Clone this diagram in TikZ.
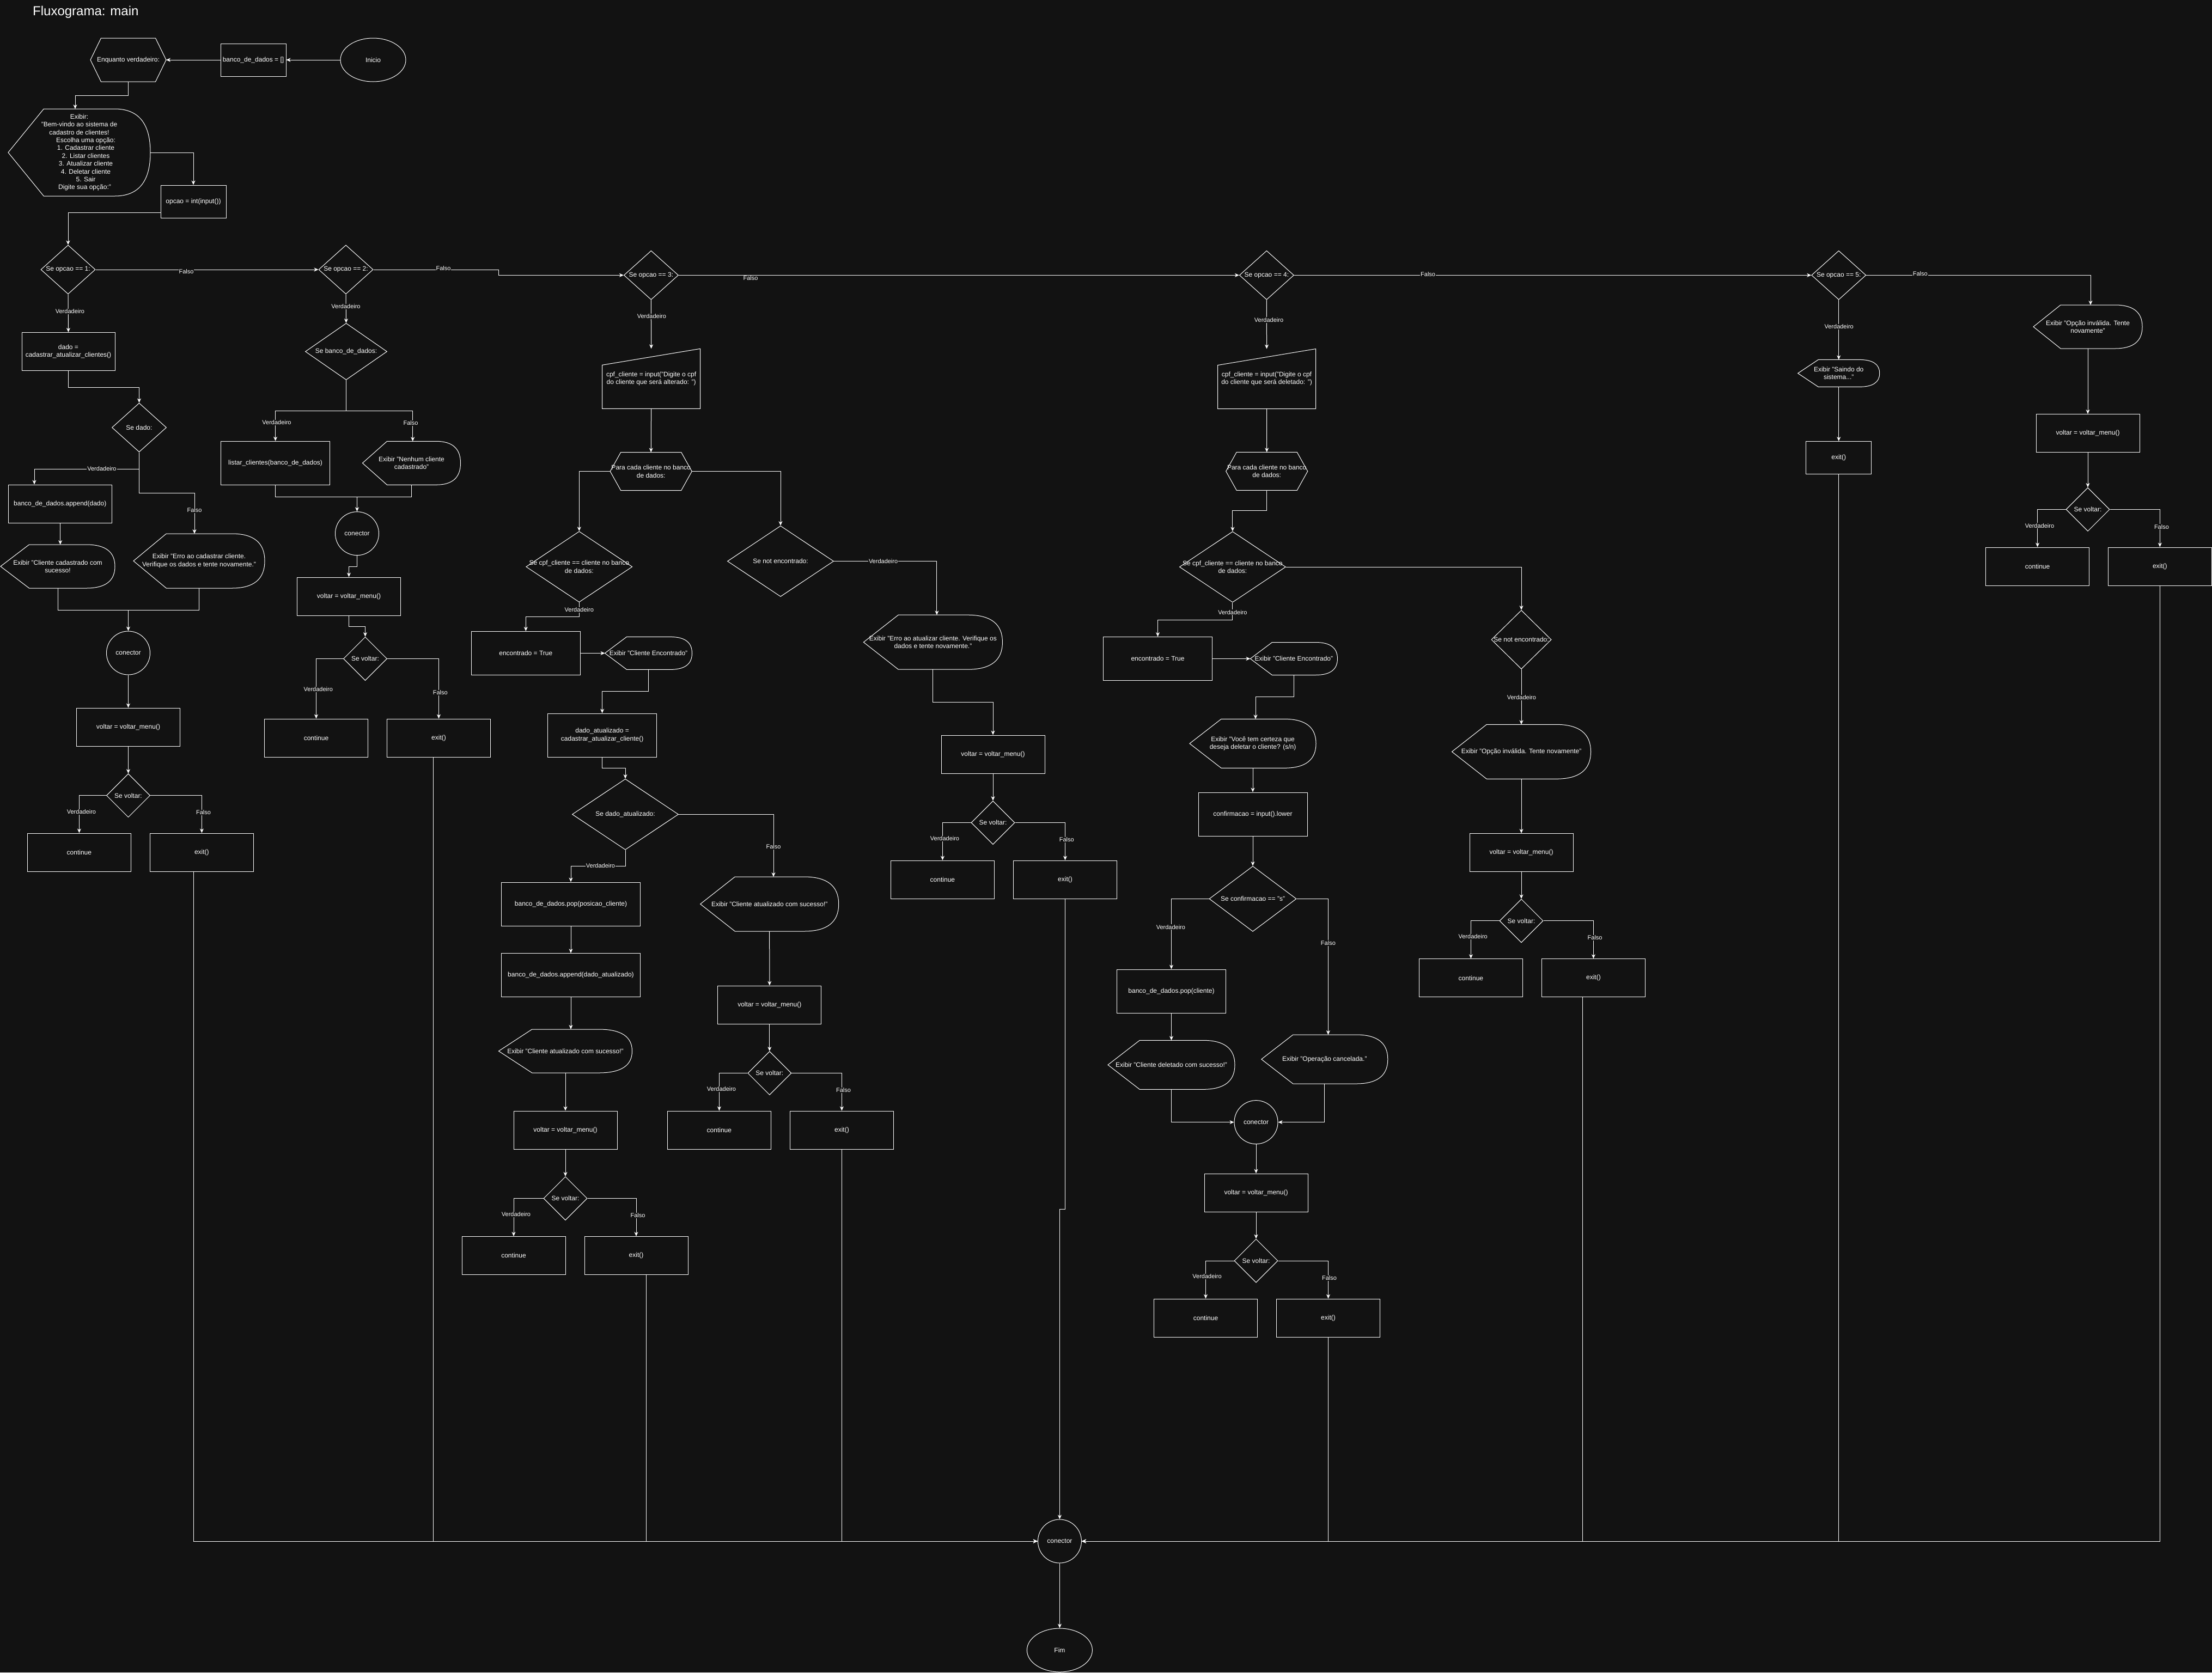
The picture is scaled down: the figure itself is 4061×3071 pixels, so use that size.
\documentclass[tikz,border=0pt]{standalone}
\usepackage{fontspec}
\setmainfont{Liberation Sans}
\usetikzlibrary{shapes.geometric,calc,arrows.meta}
\definecolor{bg}{RGB}{18,18,18}
\newcommand\fsn{\fontsize{12}{14.4}\selectfont}
\newcommand\fsl{\fontsize{11}{13}\selectfont}
\tikzset{
  shp/.style={draw=white, line width=1pt},
  box/.style={rectangle, draw=white, line width=1pt, text=white, font=\fsn, align=center, inner sep=2pt},
  ell/.style={ellipse, draw=white, line width=1pt, text=white, font=\fsn, inner sep=0pt},
  dia/.style={diamond, draw=white, line width=1pt, inner sep=0pt},
  txt/.style={text=white, font=\fsn, align=center, inner sep=0pt},
  anchorbox/.style={rectangle, draw=none, inner sep=0pt, outer sep=0pt},
  lbl/.style={text=white, fill=bg, font=\fsl, inner sep=1pt},
  arr/.style={draw=white, line width=1pt, -{Stealth[length=8pt,width=7pt,inset=2.5pt]}},
  con/.style={draw=white, line width=1pt}
}
\newcommand{\boxnode}[5]{\node[box, minimum width=#3pt, minimum height=#4pt] (#1) at (#2) {#5};}
\newcommand{\ellnode}[5]{\node[ell, minimum width=#3pt, minimum height=#4pt] (#1) at (#2) {#5};}
\newcommand{\dianode}[5]{%
  \node[dia, minimum width=#3pt, minimum height=#4pt] (#1) at (#2) {};
  \node[txt] (#1-t) at (#1.center) {#5};}
\newcommand{\hexnode}[5]{%
  \node[anchorbox, minimum width=#3pt, minimum height=#4pt] (#1) at (#2) {};
  \draw[shp] (#1.west) -- ([xshift=19.5pt]#1.north west) -- ([xshift=-19.5pt]#1.north east) -- (#1.east)
     -- ([xshift=-19.5pt]#1.south east) -- ([xshift=19.5pt]#1.south west) -- cycle;
  \node[txt] (#1-t) at (#1.center) {#5};}
\newcommand{\manualnode}[5]{%
  \node[anchorbox, minimum width=#3pt, minimum height=#4pt] (#1) at (#2) {};
  \draw[shp] ([yshift=-30pt]#1.north west) -- (#1.north east) -- (#1.south east) -- (#1.south west) -- cycle;
  \node[txt] (#1-t) at (#1.center) {#5};}
\newcommand{\dispnode}[5]{%
  \node[anchorbox, minimum width=#3pt, minimum height=#4pt] (#1) at (#2) {};
  \coordinate (#1-tl) at ($(#1.north west)!0.25!(#1.north east)$);
  \coordinate (#1-tr) at ($(#1.north west)!0.75!(#1.north east)$);
  \coordinate (#1-bl) at ($(#1.south west)!0.25!(#1.south east)$);
  \coordinate (#1-br) at ($(#1.south west)!0.75!(#1.south east)$);
  \draw[shp] (#1.west) -- (#1-tl) -- (#1-tr)
     .. controls ($(#1-tr)!0.6667!(#1.north east)$) and ($(#1.east)!0.6667!(#1.north east)$) .. (#1.east)
     .. controls ($(#1.east)!0.6667!(#1.south east)$) and ($(#1-br)!0.6667!(#1.south east)$) .. (#1-br)
     -- (#1-bl) -- cycle;
  \node[txt] (#1-t) at (#1.center) {#5};}
\newcommand{\lab}[3]{\node[lbl] (#1) at (#2) {#3};}

\begin{document}
\begin{tikzpicture}[x=1pt,y=-1pt]
\fill[bg] (0,0) rectangle (4061,3071);
\useasboundingbox (0,0) rectangle (4061,3071);

\node[anchor=base west, text=white, font=\fontsize{24}{28}\selectfont, inner sep=0pt] (title) at (60,28) {Fluxograma: main};

% ---------- header ----------
\ellnode{inicio}{685,110}{120}{80}{Inicio}
\boxnode{bdd}{465,110}{120}{60}{banco\_de\_dados = []}
\hexnode{enq}{235.5,110}{139}{80}{Enquanto verdadeiro:}
\dispnode{menu}{145.5,280}{261}{160}{Exibir:\\"Bem-vindo ao sistema de\\cadastro de clientes!\\\hspace*{24pt}Escolha uma opção:\\\hspace*{24pt}1. Cadastrar cliente\\\hspace*{24pt}2. Listar clientes\\\hspace*{24pt}3. Atualizar cliente\\\hspace*{24pt}4. Deletar cliente\\\hspace*{24pt}5. Sair\\\hspace*{20pt}Digite sua opção:"}
\boxnode{opcao}{355,370}{120}{60}{opcao = int(input())}

% ---------- column 1 ----------
\dianode{op1}{125,495}{100}{90}{Se opcao == 1:}
\boxnode{dado}{125.5,645.5}{171}{70}{dado =\\cadastrar\_atualizar\_clientes()}
\dianode{sedado}{255.5,785}{100}{90}{Se dado:}
\boxnode{app1}{110.3,925}{190}{70}{banco\_de\_dados.append(dado)}
\dispnode{cad}{106,1040}{210}{80}{Exibir "Cliente cadastrado com\\sucesso!}
\dispnode{err1}{365.5,1030}{241}{100}{Exibir "Erro ao cadastrar cliente.\\Verifique os dados e tente novamente."}
\ellnode{con1}{235.5,1199}{80}{80}{conector}
\boxnode{v1}{235.5,1335}{190}{70}{voltar = voltar\_menu()}
\dianode{sv1}{235.5,1460.7}{80}{80}{Se voltar:}
\boxnode{c1}{145.4,1565}{190}{70}{continue}
\boxnode{e1}{370.4,1565}{190}{70}{exit()}

% ---------- column 2 ----------
\dianode{op2}{635,495}{100}{90}{Se opcao == 2:}
\dianode{sbd}{635.5,645.5}{150}{104}{Se banco\_de\_dados:}
\boxnode{listar}{505.6,850.3}{200}{80}{listar\_clientes(banco\_de\_dados)}
\dispnode{nenhum}{755.5,850.3}{180}{80}{Exibir "Nenhum cliente\\cadastrado"}
\ellnode{con2}{655.5,979.7}{80}{80}{conector}
\boxnode{v2}{640.5,1095}{190}{70}{voltar = voltar\_menu()}
\dianode{sv2}{670.5,1209.5}{80}{80}{Se voltar:}
\boxnode{c2}{580.5,1355}{190}{70}{continue}
\boxnode{e2}{805.5,1355}{190}{70}{exit()}

% ---------- column 3 ----------
\dianode{op3}{1195.4,505.3}{100}{90}{Se opcao == 3:}
\manualnode{cpf3}{1195.6,695.3}{180}{110}{cpf\_cliente = input("Digite o cpf\\do cliente que será alterado: ")}
\hexnode{para3}{1195.2,865.5}{150}{70}{Para cada cliente no banco\\de dados:}
\dianode{scpf3}{1063.3,1040.7}{195}{130}{Se cpf\_cliente == cliente no banco\\de dados:}
\dianode{snf3}{1433,1030.5}{195}{130}{Se not encontrado:}
\boxnode{enc3}{965.3,1199.4}{200}{80}{encontrado = True}
\dispnode{ce3}{1190.5,1199.4}{160}{60}{Exibir "Cliente Encontrado"}
\boxnode{da3}{1105.6,1350}{200}{80}{dado\_atualizado =\\cadastrar\_atualizar\_cliente()}
\dianode{sda3}{1148,1495.3}{195}{130}{Se dado\_atualizado:}
\boxnode{pop3}{1048,1660}{255}{80}{banco\_de\_dados.pop(posicao\_cliente)}
\boxnode{app3}{1048,1790.6}{255}{80}{banco\_de\_dados.append(dado\_atualizado)}
\dispnode{ok3a}{1038,1930}{245}{80}{Exibir "Cliente atualizado com sucesso!"}
\boxnode{v3a}{1038,2075}{190}{70}{voltar = voltar\_menu()}
\dianode{sv3a}{1038,2200.5}{80}{80}{Se voltar:}
\boxnode{c3a}{943,2305.5}{190}{70}{continue}
\boxnode{e3a}{1168,2305.5}{190}{70}{exit()}
\dispnode{ok3b}{1412.7,1660}{254}{100}{Exibir "Cliente atualizado com sucesso!"}
\boxnode{v3b}{1412.8,1845}{190}{70}{voltar = voltar\_menu()}
\dianode{sv3b}{1412.8,1970.5}{80}{80}{Se voltar:}
\boxnode{c3b}{1320.4,2075}{190}{70}{continue}
\boxnode{e3b}{1545.4,2075}{190}{70}{exit()}
\dispnode{err3}{1712.9,1179.2}{255}{100}{Exibir "Erro ao atualizar cliente. Verifique os\\dados e tente novamente."}
\boxnode{v3c}{1823,1385}{190}{70}{voltar = voltar\_menu()}
\dianode{sv3c}{1823,1510.6}{80}{80}{Se voltar:}
\boxnode{c3c}{1730.4,1615}{190}{70}{continue}
\boxnode{e3c}{1955.5,1615}{190}{70}{exit()}

% ---------- column 4 ----------
\dianode{op4}{2325.4,505.3}{100}{90}{Se opcao == 4:}
\manualnode{cpf4}{2325.5,695.6}{180}{110}{cpf\_cliente = input("Digite o cpf\\do cliente que será deletado: ")}
\hexnode{para4}{2325.7,865.3}{150}{70}{Para cada cliente no banco\\de dados:}
\dianode{scpf4}{2262.9,1041}{195}{130}{Se cpf\_cliente == cliente no banco\\de dados:}
\boxnode{enc4}{2125.5,1209.5}{200}{80}{encontrado = True}
\dispnode{ce4}{2375.4,1209.5}{160}{60}{Exibir "Cliente Encontrado"}
\dispnode{voce}{2300,1365.3}{232}{90}{Exibir "Você tem certeza que\\deseja deletar o cliente? (s/n)}
\boxnode{conf}{2300,1495}{200}{80}{confirmacao = input().lower}
\dianode{sconf}{2300,1650.4}{160}{120}{Se confirmacao == "s"}
\boxnode{pop4}{2150.5,1820}{200}{80}{banco\_de\_dados.pop(cliente)}
\dispnode{del4}{2150.5,1955.3}{233}{90}{Exibir "Cliente deletado com sucesso!"}
\dispnode{canc}{2431.8,1945}{232}{90}{Exibir "Operação cancelada."}
\ellnode{con4}{2306,2060.6}{80}{80}{conector}
\boxnode{v4}{2306,2190}{190}{70}{voltar = voltar\_menu()}
\dianode{sv4}{2306,2315}{80}{80}{Se voltar:}
\boxnode{c4}{2213.5,2420}{190}{70}{continue}
\boxnode{e4}{2438.5,2420}{190}{70}{exit()}
\dianode{snf4}{2793,1174.5}{110}{108}{Se not encontrado:}
\dispnode{inv4}{2793,1380.3}{255}{100}{Exibir "Opção inválida. Tente novamente"}
\boxnode{v4b}{2793,1565.5}{190}{70}{voltar = voltar\_menu()}
\dianode{sv4b}{2793,1690.8}{80}{80}{Se voltar:}
\boxnode{c4b}{2700.4,1795.7}{190}{70}{continue}
\boxnode{e4b}{2925.4,1795.7}{190}{70}{exit()}

% ---------- column 5 ----------
\dianode{op5}{3375.7,505.3}{100}{90}{Se opcao == 5:}
\dispnode{sai}{3375.7,685.4}{150}{50}{Exibir "Saindo do\\sistema..."}
\boxnode{e5}{3375.7,840.5}{120}{60}{exit()}
\dispnode{inv5}{3833,600}{200}{80}{Exibir "Opção inválida. Tente\\novamente"}
\boxnode{v5}{3833,795.5}{190}{70}{voltar = voltar\_menu()}
\dianode{sv5}{3833,935.4}{80}{80}{Se voltar:}
\boxnode{c5}{3740.6,1040}{190}{70}{continue}
\boxnode{e5b}{3965.3,1040}{190}{70}{exit()}

% ---------- end ----------
\ellnode{cend}{1945.4,2830}{80}{80}{conector}
\ellnode{fim}{1945.4,3030}{120}{80}{Fim}

\coordinate (j1) at (235.5,1120);
\coordinate (j2) at (655.5,912);

% ---------- connectors ----------
\draw[arr] (inicio) -- (bdd);
\draw[arr] (bdd) -- (enq.east);
\draw[arr] (enq.south) -- ++(0,25) -| ([xshift=-7.5pt]menu.north);
\draw[arr] (menu.east) -| (opcao.north);
\draw[arr] ([yshift=-20pt]opcao.west) -| (op1.north);

% col 1
\draw[arr] (op1.south) -- (dado.north);
\draw[arr] (op1.east) -- (op2.west);
\draw[arr] (dado.south) -- ++(0,30) -| (sedado.north);
\draw[arr] (sedado.south) -- ++(0,30.6) -| ([xshift=-47.3pt]app1.north);
\draw[arr] (sedado.south) -- ++(0,75) -| ([xshift=-8.5pt]err1.north);
\draw[arr] ([xshift=0.4pt]app1.south) -- ([xshift=0.4pt]app1.south |- cad.north);
\draw[con] (cad.south) |- (j1);
\draw[con] (err1.south) |- (j1);
\draw[arr] (j1) -- (con1.north);
\draw[arr] (con1) -- (v1);
\draw[arr] (v1) -- (sv1);
\draw[arr] (sv1.west) -| (c1.north);
\draw[arr] (sv1.east) -| (e1.north);
\draw[arr] ([xshift=-15pt]e1.south) |- (cend.west);

% col 2
\draw[arr] (op2.south) -- (sbd.north);
\draw[arr] (op2.east) -- ++(230,0) |- (op3.west);
\draw[arr] (sbd.south) -- ++(0,56) -| (listar.north);
\draw[arr] (sbd.south) -- ++(0,56) -| ([xshift=2.2pt]nenhum.north);
\draw[con] (listar.south) |- (j2);
\draw[con] (nenhum.south) |- (j2);
\draw[arr] (j2) -- (con2.north);
\draw[arr] (con2.south) -- ++(0,20.5) -| (v2.north);
\draw[arr] (v2.south) -- ++(0,20) -| (sv2.north);
\draw[arr] (sv2.west) -| (c2.north);
\draw[arr] (sv2.east) -| (e2.north);
\draw[arr] ([xshift=-10pt]e2.south) |- (cend.west);

% col 3
\draw[arr] (op3.south) -- (cpf3.north);
\draw[arr] (op3.east) -- (op4.west);
\draw[arr] (cpf3.south) -- (para3.north);
\draw[arr] (para3.west) -| (scpf3.north);
\draw[arr] (para3.east) -| (snf3.north);
\draw[arr] (scpf3.south) -- ++(0,26.5) -| (enc3.north);
\draw[arr] (enc3.east) -- (ce3.west);
\draw[arr] (ce3.south) -- ++(0,40.5) -| (da3.north);
\draw[arr] (da3.south) -- ++(0,20) -| (sda3.north);
\draw[arr] (sda3.south) -- ++(0,30) -| (pop3.north);
\draw[arr] (sda3.east) -| ([xshift=7.3pt]ok3b.north);
\draw[arr] (pop3) -- (app3);
\draw[arr] (app3.south) -- ([xshift=10pt]ok3a.north);
\draw[arr] (ok3a.south) -- (v3a.north);
\draw[arr] (v3a) -- (sv3a);
\draw[arr] (sv3a.west) -| (c3a.north);
\draw[arr] (sv3a.east) -| (e3a.north);
\draw[arr] ([xshift=18pt]e3a.south) |- (cend.west);
\draw[arr] (ok3b.south) -- (v3b.north);
\draw[arr] (v3b) -- (sv3b);
\draw[arr] (sv3b.west) -| (c3b.north);
\draw[arr] (sv3b.east) -| (e3b.north);
\draw[arr] (e3b.south) |- (cend.west);
\draw[arr] (snf3.east) -| ([xshift=7pt]err3.north);
\draw[arr] (err3.south) -- ++(0,60.4) -| (v3c.north);
\draw[arr] (v3c) -- (sv3c);
\draw[arr] (sv3c.west) -| (c3c.north);
\draw[arr] (sv3c.east) -| (e3c.north);
\draw[arr] (e3c.south) -- ++(0,570) -| (cend.north);

% col 4
\draw[arr] (op4.south) -- (cpf4.north);
\draw[arr] (op4.east) -- (op5.west);
\draw[arr] (cpf4.south) -- (para4.north);
\draw[arr] (para4.south) -- ++(0,37.3) -| (scpf4.north);
\draw[arr] (scpf4.south) -- ++(0,31.7) -| (enc4.north);
\draw[arr] (scpf4.east) -| (snf4.north);
\draw[arr] (enc4.east) -- (ce4.west);
\draw[arr] (ce4.south) -- ++(0,39.7) -| ([xshift=5pt]voce.north);
\draw[arr] (voce.south) -- (conf.north);
\draw[arr] (conf) -- (sconf);
\draw[arr] (sconf.west) -| (pop4.north);
\draw[arr] (sconf.east) -| ([xshift=6.6pt]canc.north);
\draw[arr] (pop4.south) -- (del4.north);
\draw[arr] (del4.south) |- (con4.west);
\draw[arr] (canc.south) |- (con4.east);
\draw[arr] (con4) -- (v4);
\draw[arr] (v4) -- (sv4);
\draw[arr] (sv4.west) -| (c4.north);
\draw[arr] (sv4.east) -| (e4.north);
\draw[arr] (e4.south) |- (cend.east);
\draw[arr] (snf4.south) -- (inv4.north);
\draw[arr] (inv4.south) -- (v4b.north);
\draw[arr] (v4b) -- (sv4b);
\draw[arr] (sv4b.west) -| (c4b.north);
\draw[arr] (sv4b.east) -| (e4b.north);
\draw[arr] ([xshift=-20pt]e4b.south) |- (cend.east);

% col 5
\draw[arr] (op5.south) -- (sai.north);
\draw[arr] (op5.east) -| ([xshift=5pt]inv5.north);
\draw[arr] (sai.south) -- (e5.north);
\draw[arr] (e5.south) |- (cend.east);
\draw[arr] (inv5.south) -- (v5.north);
\draw[arr] (v5) -- (sv5);
\draw[arr] (sv5.west) -| (c5.north);
\draw[arr] (sv5.east) -| (e5b.north);
\draw[arr] (e5b.south) |- (cend.east);

\draw[arr] (cend) -- (fim);

% ---------- labels ----------
\lab{lb1}{128.5,572}{Verdadeiro}
\lab{lb2}{342,499}{Falso}
\lab{lb3}{187,861}{Verdadeiro}
\lab{lb4}{357,937}{Falso}
\lab{lb5}{149.5,1491}{Verdadeiro}
\lab{lb6}{373.5,1492}{Falso}
\lab{lb7}{635,563}{Verdadeiro}
\lab{lb8}{814,492.7}{Falso}
\lab{lb9}{508,776}{Verdadeiro}
\lab{lb10}{754,777}{Falso}
\lab{lb11}{584.3,1265.7}{Verdadeiro}
\lab{lb12}{808.3,1272}{Falso}
\lab{lb13}{1196.4,580.8}{Verdadeiro}
\lab{lb14}{1378,511}{Falso}
\lab{lb15}{1063.3,1120}{Verdadeiro}
\lab{lb16}{1621.6,1030.5}{Verdadeiro}
\lab{lb17}{1102.5,1590}{Verdadeiro}
\lab{lb18}{1420,1555}{Falso}
\lab{lb19}{947.5,2230}{Verdadeiro}
\lab{lb20}{1171,2232}{Falso}
\lab{lb21}{1324.5,2000}{Verdadeiro}
\lab{lb22}{1548.5,2002}{Falso}
\lab{lb23}{1734.5,1539.8}{Verdadeiro}
\lab{lb24}{1958.3,1541.7}{Falso}
\lab{lb25}{2329.5,587.5}{Verdadeiro}
\lab{lb26}{2621.6,503.4}{Falso}
\lab{lb27}{2262.9,1124.1}{Verdadeiro}
\lab{lb28}{2149.4,1702.4}{Verdadeiro}
\lab{lb29}{2438.4,1731.5}{Falso}
\lab{lb30}{2216,2343.8}{Verdadeiro}
\lab{lb31}{2440.5,2346.8}{Falso}
\lab{lb32}{2793.4,1281}{Verdadeiro}
\lab{lb33}{2704.2,1719.9}{Verdadeiro}
\lab{lb34}{2928.1,1722}{Falso}
\lab{lb35}{3376.2,600}{Verdadeiro}
\lab{lb36}{3525.2,503}{Falso}
\lab{lb37}{3744.5,965.1}{Verdadeiro}
\lab{lb38}{3968.4,967.3}{Falso}
\end{tikzpicture}
\end{document}
